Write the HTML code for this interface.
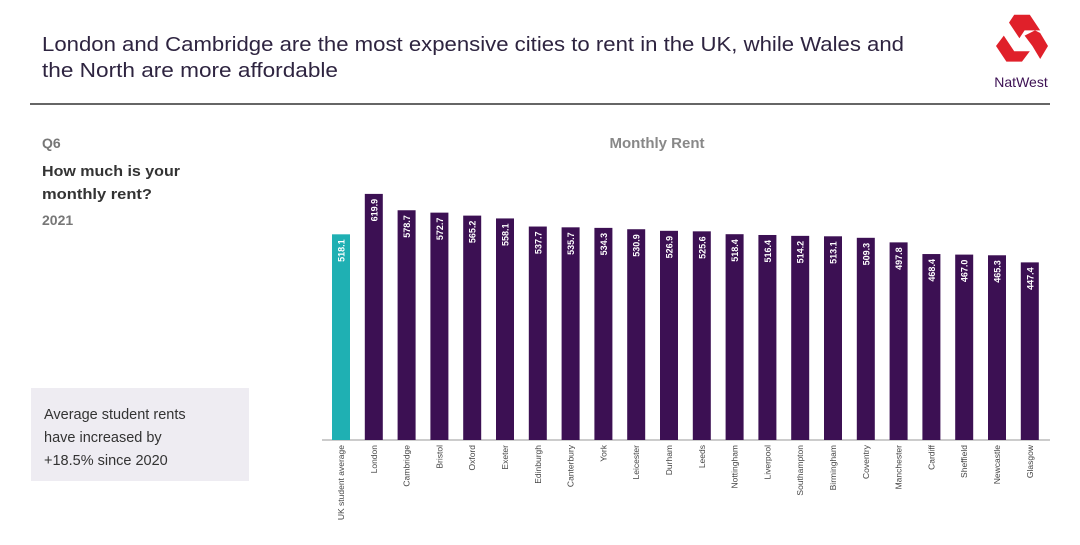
<!DOCTYPE html>
<html><head><meta charset="utf-8"><style>
html,body{margin:0;padding:0;background:#fff;width:1080px;height:545px;overflow:hidden;font-family:"Liberation Sans",sans-serif}
</style></head><body>
<svg width="1080" height="545" xmlns="http://www.w3.org/2000/svg" font-family="Liberation Sans, sans-serif">
<text x="42" y="51" font-size="20" fill="#2e2440" textLength="862" lengthAdjust="spacingAndGlyphs">London and Cambridge are the most expensive cities to rent in the UK, while Wales and</text>
<text x="42" y="77" font-size="20" fill="#2e2440" textLength="296" lengthAdjust="spacingAndGlyphs">the North are more affordable</text>
<line x1="30" y1="104" x2="1050" y2="104" stroke="#333" stroke-width="1.5"/>
<g transform="translate(1022,46) scale(1.3)" fill="#e0202a">
<polygon points="-6,-24 6,-24 14,-12 2,-12 -2,-6 -10,-18"/>
<polygon points="14,-10 20,0 14,10 8,0 2,-8 10,-12" />
<polygon points="-14,-8 -6,4 6,4 0,12 -12,12 -20,0"/>
</g>
<text x="1021" y="87" font-size="14" fill="#3c1053" text-anchor="middle">NatWest</text>
<text x="42" y="148" font-size="14" fill="#777" font-weight="bold">Q6</text>
<text x="42" y="176" font-size="15" fill="#333" font-weight="bold" textLength="138" lengthAdjust="spacingAndGlyphs">How much is your</text>
<text x="42" y="199" font-size="15" fill="#333" font-weight="bold" textLength="110" lengthAdjust="spacingAndGlyphs">monthly rent?</text>
<text x="42" y="225" font-size="14" fill="#777" font-weight="bold">2021</text>
<rect x="31" y="388" width="218" height="93" fill="#eeecf2"/>
<text x="44" y="419" font-size="14.5" fill="#333">Average student rents</text>
<text x="44" y="442" font-size="14.5" fill="#333">have increased by</text>
<text x="44" y="465" font-size="14.5" fill="#333">+18.5% since 2020</text>
<text x="657" y="148" font-size="15" fill="#888" font-weight="bold" text-anchor="middle">Monthly Rent</text>
<line x1="322" y1="440" x2="1050" y2="440" stroke="#bbb" stroke-width="1.5"/>
<g id="bars"></g>
</svg>
<script>
var d=[["UK student average",518.1],["London",619.9],["Cambridge",578.7],["Bristol",572.7],["Oxford",565.2],["Exeter",558.1],["Edinburgh",537.7],["Canterbury",535.7],["York",534.3],["Leicester",530.9],["Durham",526.9],["Leeds",525.6],["Nottingham",518.4],["Liverpool",516.4],["Southampton",514.2],["Birmingham",513.1],["Coventry",509.3],["Manchester",497.8],["Cardiff",468.4],["Sheffield",467.0],["Newcastle",465.3],["Glasgow",447.4]];
var s="";
d.forEach(function(e,i){var x=332+i*32.8,h=e[1]*0.397,t=440-h,cx=x+9;
s+='<rect x="'+x+'" y="'+t+'" width="18" height="'+h+'" fill="'+(i==0?'#1fb0b3':'#3c1053')+'"/>';
s+='<text transform="translate('+(cx+3.5)+','+(t+5)+') rotate(-90)" font-size="9" font-weight="bold" fill="#fff" text-anchor="end">'+e[1].toFixed(1)+'</text>';
s+='<text transform="translate('+(cx+3)+',445) rotate(-90)" font-size="8.5" fill="#444" text-anchor="end">'+e[0]+'</text>';});
document.getElementById("bars").innerHTML=s;
</script>
</body></html>
